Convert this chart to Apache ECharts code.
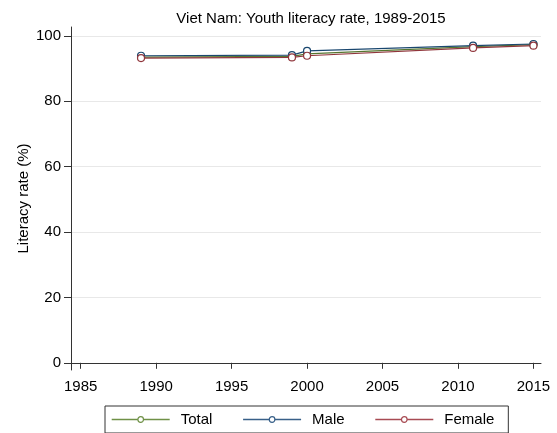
<!DOCTYPE html>
<html>
<head>
<meta charset="utf-8">
<script src="https://cdn.jsdelivr.net/npm/echarts@6/dist/echarts.min.js"></script>
<style>html,body{margin:0;padding:0;background:#fff}#c{width:557px;height:433px}</style>
</head>
<body>
<div id="c"></div>
<script>
const years = [1989, 1999, 2000, 2011, 2015];
const total = [93.5, 93.7, 94.5, 96.7, 97.3];
const male = [93.9, 94.1, 95.4, 97.0, 97.5];
const female = [93.2, 93.4, 93.9, 96.3, 97.0];
const xTicks = [1985, 1990, 1995, 2000, 2005, 2010, 2015];
const yTicks = [0, 20, 40, 60, 80, 100];
const seriesNames = ['Total', 'Male', 'Female'];

const font = 'Liberation Sans, Arial, sans-serif';
const colors = {Total: '#55752f', Male: '#1a476f', Female: '#90353b'};
const legendColors = {Total: '#6f9147', Male: '#386089', Female: '#a84b53'};
function mk(name, vals) {
  return {
    name: name, type: 'line',
    data: years.map((y, i) => [y, vals[i]]),
    symbol: 'circle', symbolSize: 7,
    itemStyle: {color: '#fff', borderColor: colors[name], borderWidth: 1.2},
    lineStyle: {color: colors[name], width: 1.2},
    emphasis: {disabled: true}
  };
}
const chart = echarts.init(document.getElementById('c'), null, {renderer: 'canvas'});
chart.setOption({
  animation: false,
  backgroundColor: '#fff',
  title: {
    text: 'Viet Nam: Youth literacy rate, 1989-2015',
    left: 306, top: 6, textAlign: 'center',
    textStyle: {fontFamily: font, fontSize: 15, fontWeight: 'normal', color: '#000'}
  },
  grid: {left: 71, right: 16, top: 27, bottom: 63},
  xAxis: {
    type: 'value', min: 1984.36, max: 2015.5,
    axisLine: {show: true, lineStyle: {color: '#333', width: 1}},
    axisTick: {show: true, inside: false, length: 6, customValues: xTicks, lineStyle: {color: '#333', width: 1}},
    axisLabel: {customValues: xTicks, formatter: v => String(v), fontFamily: font, fontSize: 15, color: '#000', margin: 9},
    splitLine: {show: false}
  },
  yAxis: {
    type: 'value', min: -2.2, max: 102.7,
    name: 'Literacy rate (%)', nameLocation: 'middle', nameGap: 40, nameRotate: 90,
    nameMoveOverlap: false,
    nameTextStyle: {fontFamily: font, fontSize: 15, color: '#000'},
    axisLine: {show: true, lineStyle: {color: '#333', width: 1}},
    axisTick: {show: true, inside: false, length: 7, customValues: yTicks, lineStyle: {color: '#333', width: 1}},
    axisLabel: {customValues: yTicks, formatter: v => String(v), fontFamily: font, fontSize: 15, color: '#000', margin: 10},
    splitLine: {show: true, lineStyle: {color: '#e8e8e8', width: 1}}
  },
  legend: {
    left: 105, top: 406,
    data: seriesNames.map(n => ({
      name: n,
      itemStyle: {color: '#fff', borderColor: legendColors[n], borderWidth: 1.2},
      lineStyle: {color: legendColors[n], width: 1.4}
    })),
    itemWidth: 58, itemHeight: 7, itemGap: 30,
    padding: [6, 14, 6, 6],
    borderColor: '#333', borderWidth: 1,
    textStyle: {fontFamily: font, fontSize: 15, color: '#000', padding: [0, 0, 0, 6]}
  },
  series: [mk('Total', total), mk('Male', male), mk('Female', female)]
});
</script>
</body>
</html>
